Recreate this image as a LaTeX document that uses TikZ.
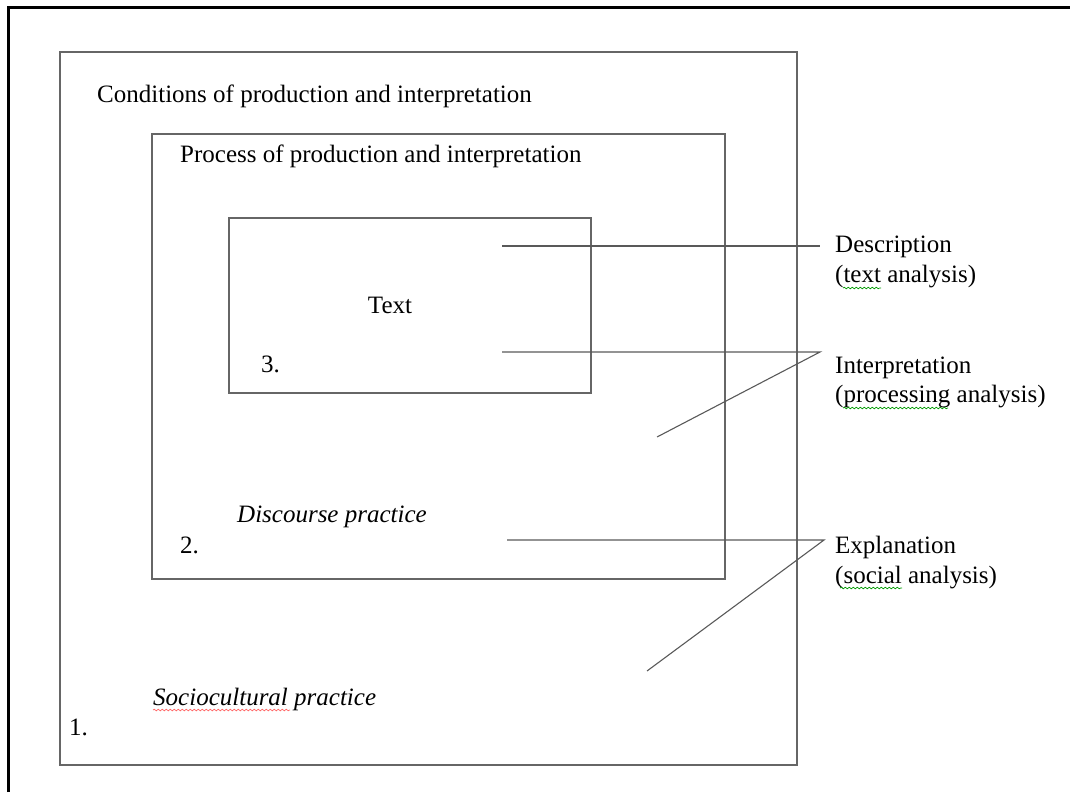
\documentclass[tikz,border=0pt]{standalone}
\usepackage{fontspec}
\setmainfont{Liberation Serif}
\usetikzlibrary{decorations.pathmorphing}

\tikzset{
  box/.style={draw=black!60, line width=1.3pt},
  lbl/.style={anchor=base west, inner sep=0pt, font=\fontsize{25}{30}\selectfont},
  link/.style={draw=black!65, line width=1.1pt},
  squig/.style={decorate, decoration={snake, amplitude=0.8pt, segment length=4pt}, line width=0.7pt},
}

\begin{document}
\begin{tikzpicture}[x=1pt, y=-1pt]
\useasboundingbox (0,0) rectangle (1070,792);
% page frame
\draw[line width=3pt] (8,792) -- (8,8) -- (1070,8);

% nested boxes
\draw[box] (60,52) rectangle (797,765);
\draw[box] (152,134) rectangle (725,579);
\draw[box] (229,218) rectangle (591,393);

% texts inside the boxes
\node[lbl] (cond) at (97,102) {Conditions of production and interpretation};
\node[lbl] (proc) at (180,162) {Process of production and interpretation};
\node[lbl, anchor=base] (txt) at (390,313) {Text};
\node[lbl] (three) at (261,372) {3.};
\node[lbl] (disc) at (237,522) {\itshape Discourse practice};
\node[lbl] (two) at (180,553) {2.};
\node[lbl] (socio) at (153,705) {\itshape Sociocultural practice};
\node[lbl] (one) at (69,735) {1.};

% labels on the right
\node[lbl] (desc) at (835,252) {Description};
\node[lbl] (descsub) at (835,282) {(text analysis)};
\node[lbl] (interp) at (835,373) {Interpretation};
\node[lbl] (interpsub) at (835,402) {(processing analysis)};
\node[lbl] (expl) at (835,553) {Explanation};
\node[lbl] (explsub) at (835,583) {(social analysis)};

% line ends
\coordinate (descIn) at (502,246);
\coordinate (interpIn) at (502,352);
\coordinate (interpOut) at (657,437);
\coordinate (interpTip) at (820,352);
\coordinate (explIn) at (507,540);
\coordinate (explOut) at (647,671);
\coordinate (explTip) at (824,540);

% connectors
\draw[link] (descIn) -- ([xshift=-15pt]descIn -| desc.west);
\draw[link] (interpIn) -- (interpTip) -- (interpOut);
\draw[link] (explIn) -- (explTip) -- (explOut);

% spelling marks
\draw[squig, red!60] (153,710) -- (290,710);
\draw[squig, green!60!black] (843,288) -- (881,288);
\draw[squig, green!60!black] (843,408) -- (948,408);
\draw[squig, green!60!black] (840,588) -- (902,588);
\end{tikzpicture}
\end{document}
